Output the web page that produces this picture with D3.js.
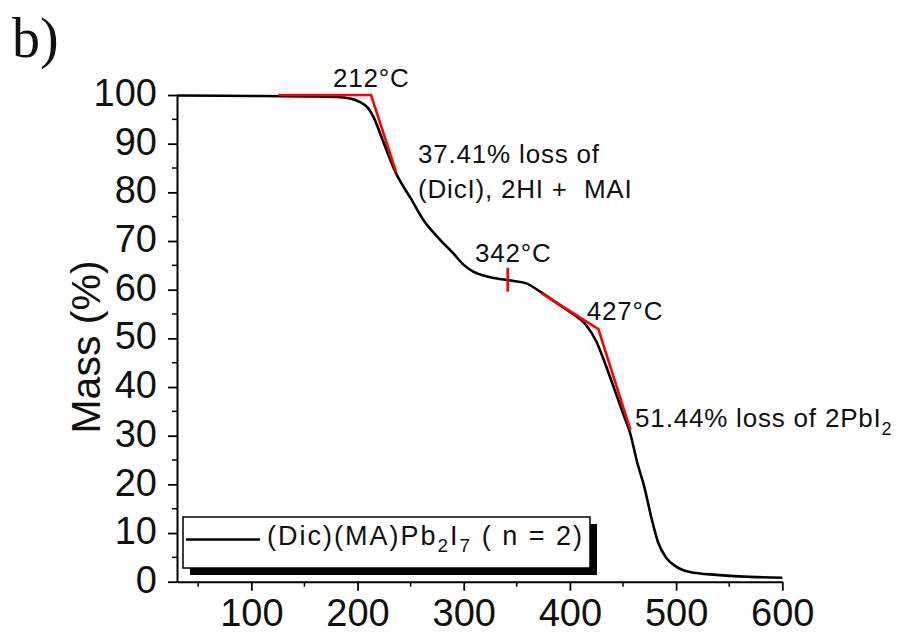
<!DOCTYPE html>
<html>
<head>
<meta charset="utf-8">
<script src="https://cdn.jsdelivr.net/npm/d3@7"></script>
<style>
  body { margin: 0; background: #fff; }
  svg { display: block; font-family: "Liberation Sans", Arial, sans-serif; }
</style>
</head>
<body>
<svg width="899" height="633"></svg>
<script>
// TGA curve
const temps = [30, 100, 150, 180, 193, 202, 210, 215, 223, 231, 237, 241, 250, 262, 278, 290, 300, 309, 322, 334, 341, 347, 359, 372, 388, 403, 415, 425, 432, 441, 450, 457, 463, 470, 477, 483, 491, 500, 513, 538, 570, 600];
const mass  = [99.9, 99.8, 99.7, 99.6, 99.3, 98.6, 97.3, 95.5, 91.1, 86.6, 83.6, 82.0, 78.8, 74.3, 70.2, 67.5, 65.1, 63.7, 62.7, 62.2, 62.0, 61.8, 61.3, 59.6, 57.2, 55.0, 52.8, 49.3, 45.5, 40.1, 34.6, 30.3, 24.8, 19.5, 12.9, 8.1, 4.8, 3.1, 2.0, 1.4, 1.0, 0.8];

// red onset construction lines
const onset1 = [[125.4, 100], [212.7, 100], [236.3, 84.2]];
const mark342 = [[341.4, 64.5], [341.4, 59.6]];
const onset2 = [[373.4, 59.3], [426.8, 51.9], [457, 31.2]];

const xTicks = [100, 200, 300, 400, 500, 600];
const yTicks = [0, 10, 20, 30, 40, 50, 60, 70, 80, 90, 100];
const seriesName = '(Dic)(MA)Pb';

const svg = d3.select('svg');

const x = d3.scaleLinear().domain([30, 600]).range([177, 782.3]);
const y = d3.scaleLinear().domain([0, 100]).range([581.7, 95]);

// minor ticks
const xMinor = d3.range(50, 600, 100);
const yMinor = d3.range(5, 100, 10);

svg.append('g')
  .attr('transform', 'translate(0,' + y(0) + ')')
  .selectAll('line')
  .data(xMinor)
  .enter()
  .append('line')
  .attr('x1', (d) => x(d)).attr('x2', (d) => x(d))
  .attr('y1', 0).attr('y2', 5)
  .attr('stroke', '#000').attr('stroke-width', 1.5);

svg.append('g')
  .attr('transform', 'translate(' + x(30) + ',0)')
  .selectAll('line')
  .data(yMinor)
  .enter()
  .append('line')
  .attr('y1', (d) => y(d)).attr('y2', (d) => y(d))
  .attr('x1', 0).attr('x2', -5)
  .attr('stroke', '#000').attr('stroke-width', 1.5);

const xAxis = svg.append('g')
  .attr('transform', 'translate(0,' + y(0) + ')')
  .call(d3.axisBottom(x).tickValues(xTicks).tickSize(9).tickPadding(9).tickSizeOuter(0));

const yAxis = svg.append('g')
  .attr('transform', 'translate(' + x(30) + ',0)')
  .call(d3.axisLeft(y).tickValues(yTicks).tickSize(9).tickPadding(11).tickSizeOuter(0));

[xAxis, yAxis].forEach((g) => {
  g.select('.domain').attr('stroke', '#000').attr('stroke-width', 2);
  g.selectAll('.tick line').attr('stroke', '#000').attr('stroke-width', 1.8);
  g.selectAll('.tick text')
    .attr('fill', '#111')
    .style('font-size', '38px')
    .style('font-family', '"Liberation Sans", Arial, sans-serif');
});
xAxis.selectAll('.tick text').attr('dy', '0.7em');
yAxis.selectAll('.tick text').attr('dy', '0.28em');

// axis title
svg.append('text')
  .attr('transform', 'translate(100,347) rotate(-90)')
  .attr('text-anchor', 'middle')
  .attr('fill', '#111')
  .style('font-size', '41px')
  .text('Mass (%)');

// panel label
svg.append('text')
  .attr('x', 12).attr('y', 57)
  .style('font-family', '"Liberation Serif", "Times New Roman", serif')
  .style('font-size', '56px')
  .attr('fill', '#111')
  .text('b)');

const line = d3.line()
  .x((d) => x(d[0]))
  .y((d) => y(d[1]))
  .curve(d3.curveMonotoneX);

svg.append('path')
  .datum(d3.zip(temps, mass))
  .attr('d', line)
  .attr('fill', 'none')
  .attr('stroke', '#000')
  .attr('stroke-width', 2.6);

const straight = d3.line().x((d) => x(d[0])).y((d) => y(d[1]));
[onset1, mark342, onset2].forEach((pts) => {
  svg.append('path')
    .datum(pts)
    .attr('d', straight)
    .attr('fill', 'none')
    .attr('stroke', '#ff0000')
    .attr('stroke-width', 2.6);
});

// annotations, anchored in data space
const notes = [
  {t: 177, m: 101.6, text: '212°C'},
  {t: 257, m: 86.0, text: '37.41% loss of'},
  {t: 257, m: 78.9, text: '(DicI), 2HI +  MAI'},
  {t: 310.6, m: 65.7, text: '342°C'},
  {t: 415.8, m: 53.8, text: '427°C'},
];
svg.append('g')
  .selectAll('text')
  .data(notes)
  .enter()
  .append('text')
  .attr('x', (d) => x(d.t))
  .attr('y', (d) => y(d.m))
  .attr('fill', '#111')
  .style('font-size', '26px')
  .style('letter-spacing', '0.8px')
  .style('white-space', 'pre')
  .attr('xml:space', 'preserve')
  .text((d) => d.text);

const pbNote = svg.append('text')
  .attr('x', x(461.4)).attr('y', y(31.7))
  .attr('fill', '#111')
  .style('font-size', '26px')
  .style('letter-spacing', '0.8px');
pbNote.append('tspan').text('51.44% loss of 2PbI');
pbNote.append('tspan').attr('dy', 8).style('font-size', '18px').text('2');

// legend
const lg = svg.append('g');
lg.append('rect')
  .attr('x', 190).attr('y', 524)
  .attr('width', 407).attr('height', 51)
  .attr('fill', '#000');
lg.append('rect')
  .attr('x', 183).attr('y', 517)
  .attr('width', 407).attr('height', 51)
  .attr('fill', '#fff')
  .attr('stroke', '#000')
  .attr('stroke-width', 1.5);
lg.append('line')
  .attr('x1', 186).attr('x2', 260)
  .attr('y1', 539.5).attr('y2', 539.5)
  .attr('stroke', '#000').attr('stroke-width', 2.6);
const lt = lg.append('text')
  .attr('x', 267).attr('y', 545)
  .attr('fill', '#111')
  .style('font-size', '27px')
  .style('letter-spacing', '2px')
  .style('white-space', 'pre')
  .attr('xml:space', 'preserve');
lt.append('tspan').text(seriesName);
lt.append('tspan').attr('dy', 7).style('font-size', '19px').text('2');
lt.append('tspan').attr('dy', -7).text('I');
lt.append('tspan').attr('dy', 7).style('font-size', '19px').text('7');
lt.append('tspan').attr('dy', -7).text(' ( n = 2)');
</script>
</body>
</html>
